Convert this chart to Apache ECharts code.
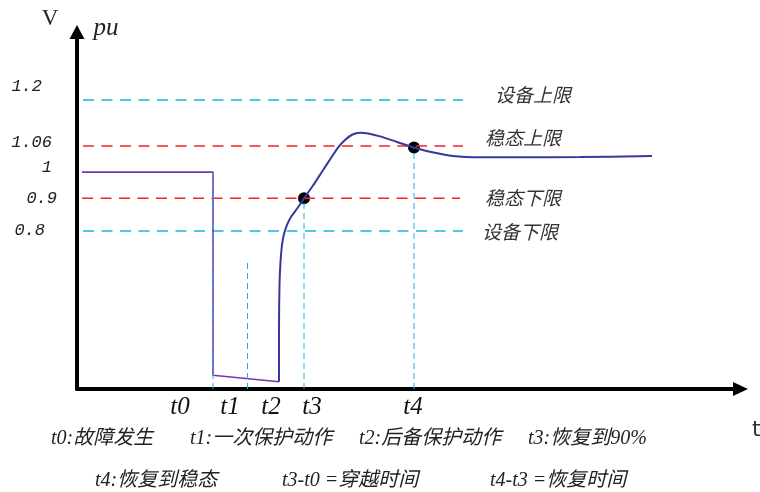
<!DOCTYPE html>
<html>
<head>
<meta charset="utf-8">
<script src="https://cdn.jsdelivr.net/npm/echarts@6/dist/echarts.min.js"></script>
<style>
html,body{margin:0;padding:0;background:#fff;}
#chart{width:760px;height:492px;}
</style>
</head>
<body>
<div id="chart"></div>
<script>
// ---- data ----
const xTickNames = ['t0', 't1', 't2', 't3', 't4'];
const xTickLabelAt = [10.3, 15.3, 19.4, 23.5, 33.6];
const eventT = [13.6, 17.05, 20.2, 22.7, 33.7];
const eventTopV = [0.98, 0.712, null, 0.9, 1.055];

const yTickNames = ['1.2', '1.06', '1', '0.9', '0.8'];
const yTickLabelAt = [1.24, 1.069, 0.993, 0.898, 0.803];

const limitNames = ['设备上限', '稳态上限', '稳态下限', '设备下限'];
const limitValues = [1.2, 1.06, 0.9, 0.8];
const limitStartT = [0.6, 0.6, 0.5, 0.6];
const limitEndT = [38.6, 38.6, 38.3, 38.6];

const faultT = [0.5, 13.6, 13.6, 20.2];
const faultV = [0.98, 0.98, 0.36, 0.34];

const recoveryT = [20.2, 20.2, 20.25, 20.35, 20.5, 20.7, 21.0, 21.4, 22.0, 22.7, 23.6, 24.5, 25.4, 26.1, 26.8, 27.5, 28.3, 29.1, 30.3, 32.0, 33.7, 35.3, 37.6, 40.3, 44.3, 50.3, 57.5];
const recoveryV = [0.34, 0.50, 0.636, 0.706, 0.758, 0.791, 0.819, 0.843, 0.868, 0.9, 0.939, 0.981, 1.023, 1.055, 1.078, 1.094, 1.10, 1.098, 1.089, 1.072, 1.055, 1.042, 1.029, 1.025, 1.025, 1.026, 1.029];

const keyT = [22.7, 33.7];
const keyV = [0.9, 1.055];

const notesRow1 = ['t0:故障发生', 't1:一次保护动作', 't2:后备保护动作', 't3:恢复到90%'];
const notesRow2 = ['t4:恢复到稳态', 't3-t0 =穿越时间', 't4-t3 =恢复时间'];

// ---- styles ----
const CYAN = '#1AB0EE';
const RED = '#F52222';
const PURPLE = '#7A35A8';
const BLUE = '#36399A';
const limitColors = [CYAN, RED, RED, CYAN];
const limitLabelOffset = [[24, -5], [14, -8], [17, -1], [11, 1]];
const yLabelPad = [15, 5, 5, 0, 12];
const FONT_MIX = '"Liberation Serif", "Noto Sans CJK SC", serif';
const yMin = 0.318, yMax = 1.4076, xMin = 0, xMax = 66.35;

const chart = echarts.init(document.getElementById('chart'), null, {renderer: 'canvas'});

const series = [];
// limit lines
limitValues.forEach((v, i) => {
  series.push({
    type: 'line', name: limitNames[i], symbol: 'none', silent: true,
    data: [[limitStartT[i], v], [limitEndT[i], v]],
    lineStyle: {color: limitColors[i], width: 1.5, type: [11, 7.5]},
    endLabel: {
      show: true, formatter: limitNames[i], offset: limitLabelOffset[i],
      color: '#333', fontSize: 19, fontStyle: 'italic',
      fontFamily: '"Noto Sans CJK SC", sans-serif'
    }
  });
});
// fault (purple) line
series.push({
  type: 'line', symbol: 'none', silent: true,
  data: faultT.map((t, i) => [t, faultV[i]]),
  lineStyle: {color: PURPLE, width: 1.6}
});
// vertical event dashed lines
eventT.forEach((t, i) => {
  if (eventTopV[i] == null) return;
  series.push({
    type: 'line', symbol: 'none', silent: true,
    data: [[t, yMin], [t, eventTopV[i]]],
    lineStyle: {color: CYAN, width: 1, type: [6, 4]}
  });
});
// recovery curve
series.push({
  type: 'line', symbol: 'none', silent: true, smooth: 0.3,
  data: recoveryT.map((t, i) => [t, recoveryV[i]]),
  lineStyle: {color: BLUE, width: 2}
});
// key points
series.push({
  type: 'scatter', symbolSize: 12, silent: true,
  data: keyT.map((t, i) => [t, keyV[i]]),
  itemStyle: {color: '#000', opacity: 1}
});

const yRich = {};
yTickNames.forEach((n, i) => {
  yRich['p' + i] = {
    padding: [0, yLabelPad[i], 0, 0],
    fontFamily: '"Liberation Mono", monospace', fontStyle: 'italic',
    fontSize: 17, color: '#222'
  };
});

function textEl(text, x, y, font, color, align) {
  return {
    type: 'text', x: x, y: y, silent: true,
    style: {text: text, font: font, fill: color || '#222', textAlign: align || 'left', textVerticalAlign: 'middle'}
  };
}

const noteFont = 'italic 20px ' + FONT_MIX;
const notesRow1X = [51, 190, 359, 528];
const notesRow2X = [95, 282, 490];
const graphics = [];
notesRow1.forEach((s, i) => graphics.push(textEl(s, notesRow1X[i], 439, noteFont)));
notesRow2.forEach((s, i) => graphics.push(textEl(s, notesRow2X[i], 481, noteFont)));
graphics.push(textEl('V', 50, 19, '23px "Liberation Serif", serif', '#222', 'center'));
graphics.push(textEl('pu', 106, 28, 'italic 25px "Liberation Serif", serif', '#222', 'center'));
graphics.push(textEl('t', 752, 430, '22px "DejaVu Sans", sans-serif', '#333', 'left'));

chart.setOption({
  animation: false,
  backgroundColor: '#fff',
  grid: {left: 77, right: 19.5, top: 32, bottom: 103, containLabel: false},
  xAxis: {
    type: 'value', min: xMin, max: xMax,
    splitLine: {show: false}, axisTick: {show: false},
    axisLine: {show: true, onZero: false, symbol: ['none', 'triangle'], symbolSize: [14, 15],
      lineStyle: {color: '#000', width: 4}},
    axisLabel: {
      customValues: xTickLabelAt, margin: 6,
      formatter: v => { const i = xTickLabelAt.indexOf(v); return i >= 0 ? xTickNames[i] : ''; },
      fontFamily: '"Liberation Serif", serif', fontStyle: 'italic', fontSize: 25, color: '#111'
    }
  },
  yAxis: {
    type: 'value', min: yMin, max: yMax,
    splitLine: {show: false}, axisTick: {show: false},
    axisLine: {show: true, onZero: false, symbol: ['none', 'triangle'], symbolSize: [15, 14],
      lineStyle: {color: '#000', width: 4}},
    axisLabel: {
      customValues: yTickLabelAt, margin: 20,
      fontFamily: '"Liberation Mono", monospace', fontStyle: 'italic', fontSize: 17, color: '#222',
      formatter: v => { const i = yTickLabelAt.indexOf(v); return i >= 0 ? '{p' + i + '|' + yTickNames[i] + '}' : ''; },
      rich: yRich
    }
  },
  series: series,
  graphic: {elements: graphics}
});
</script>
</body>
</html>
